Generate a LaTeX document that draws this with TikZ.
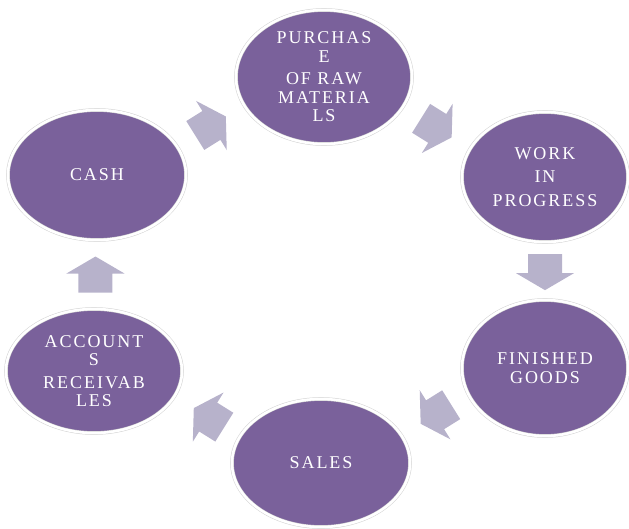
\documentclass[tikz,border=0pt]{standalone}
\usepackage{fontspec}
\setmainfont{Liberation Serif}[LetterSpace=11]
\usetikzlibrary{shapes.geometric}
\definecolor{purp}{RGB}{122,97,155}
\definecolor{arrc}{RGB}{183,178,203}
\tikzset{
  stage/.style={ellipse, fill=purp, draw=black!18, double=white, double distance=2.6pt,
    line width=0.5pt, inner sep=0pt, text=white, align=center,
    font=\fontsize{18}{18.5}\selectfont},
  blkarrow/.pic={\fill[arrc] (-18,-17) -- (1,-17) -- (1,-29) -- (18,0) -- (1,29) -- (1,17) -- (-18,17) -- cycle;}
}
\begin{document}
\begin{tikzpicture}[x=1pt,y=-1pt]
\useasboundingbox (0,0) rectangle (629,528);
\node[stage, minimum width=176, minimum height=134] (pur) at (324,77)
  {PURCHAS\\E\\[4pt]OF RAW\\MATERIA\\LS};
\node[stage, minimum width=166, minimum height=130] (wip) at (545,177)
  {WORK\\[5pt]IN\\[5pt]PROGRESS};
\node[stage, minimum width=166, minimum height=136] (fg) at (545,368)
  {FINISHED\\GOODS};
\node[stage, minimum width=178, minimum height=128] (sales) at (321,463)
  {SALES};
\node[stage, minimum width=176, minimum height=124] (ar) at (94,371)
  {ACCOUNT\\S\\[4pt]RECEIVAB\\LES};
\node[stage, minimum width=178, minimum height=130] (cash) at (97,175)
  {CASH};
\path (cash) -- coordinate[pos=0.5] (a1) (pur);
\path (pur) -- coordinate[pos=0.5] (a2) (wip);
\path (wip) -- coordinate[pos=0.52] (a3) (fg);
\path (fg) -- coordinate[pos=0.48] (a4) (sales);
\path (sales) -- coordinate[pos=0.47] (a5) (ar);
\path (ar) -- coordinate[pos=0.5] (a6) (cash);
\pic[rotate=32] at (a1) {blkarrow};
\pic[rotate=-32] at (a2) {blkarrow};
\pic[rotate=-90] at (a3) {blkarrow};
\pic[rotate=212] at (a4) {blkarrow};
\pic[rotate=148] at (a5) {blkarrow};
\pic[rotate=90] at (a6) {blkarrow};
\end{tikzpicture}
\end{document}
